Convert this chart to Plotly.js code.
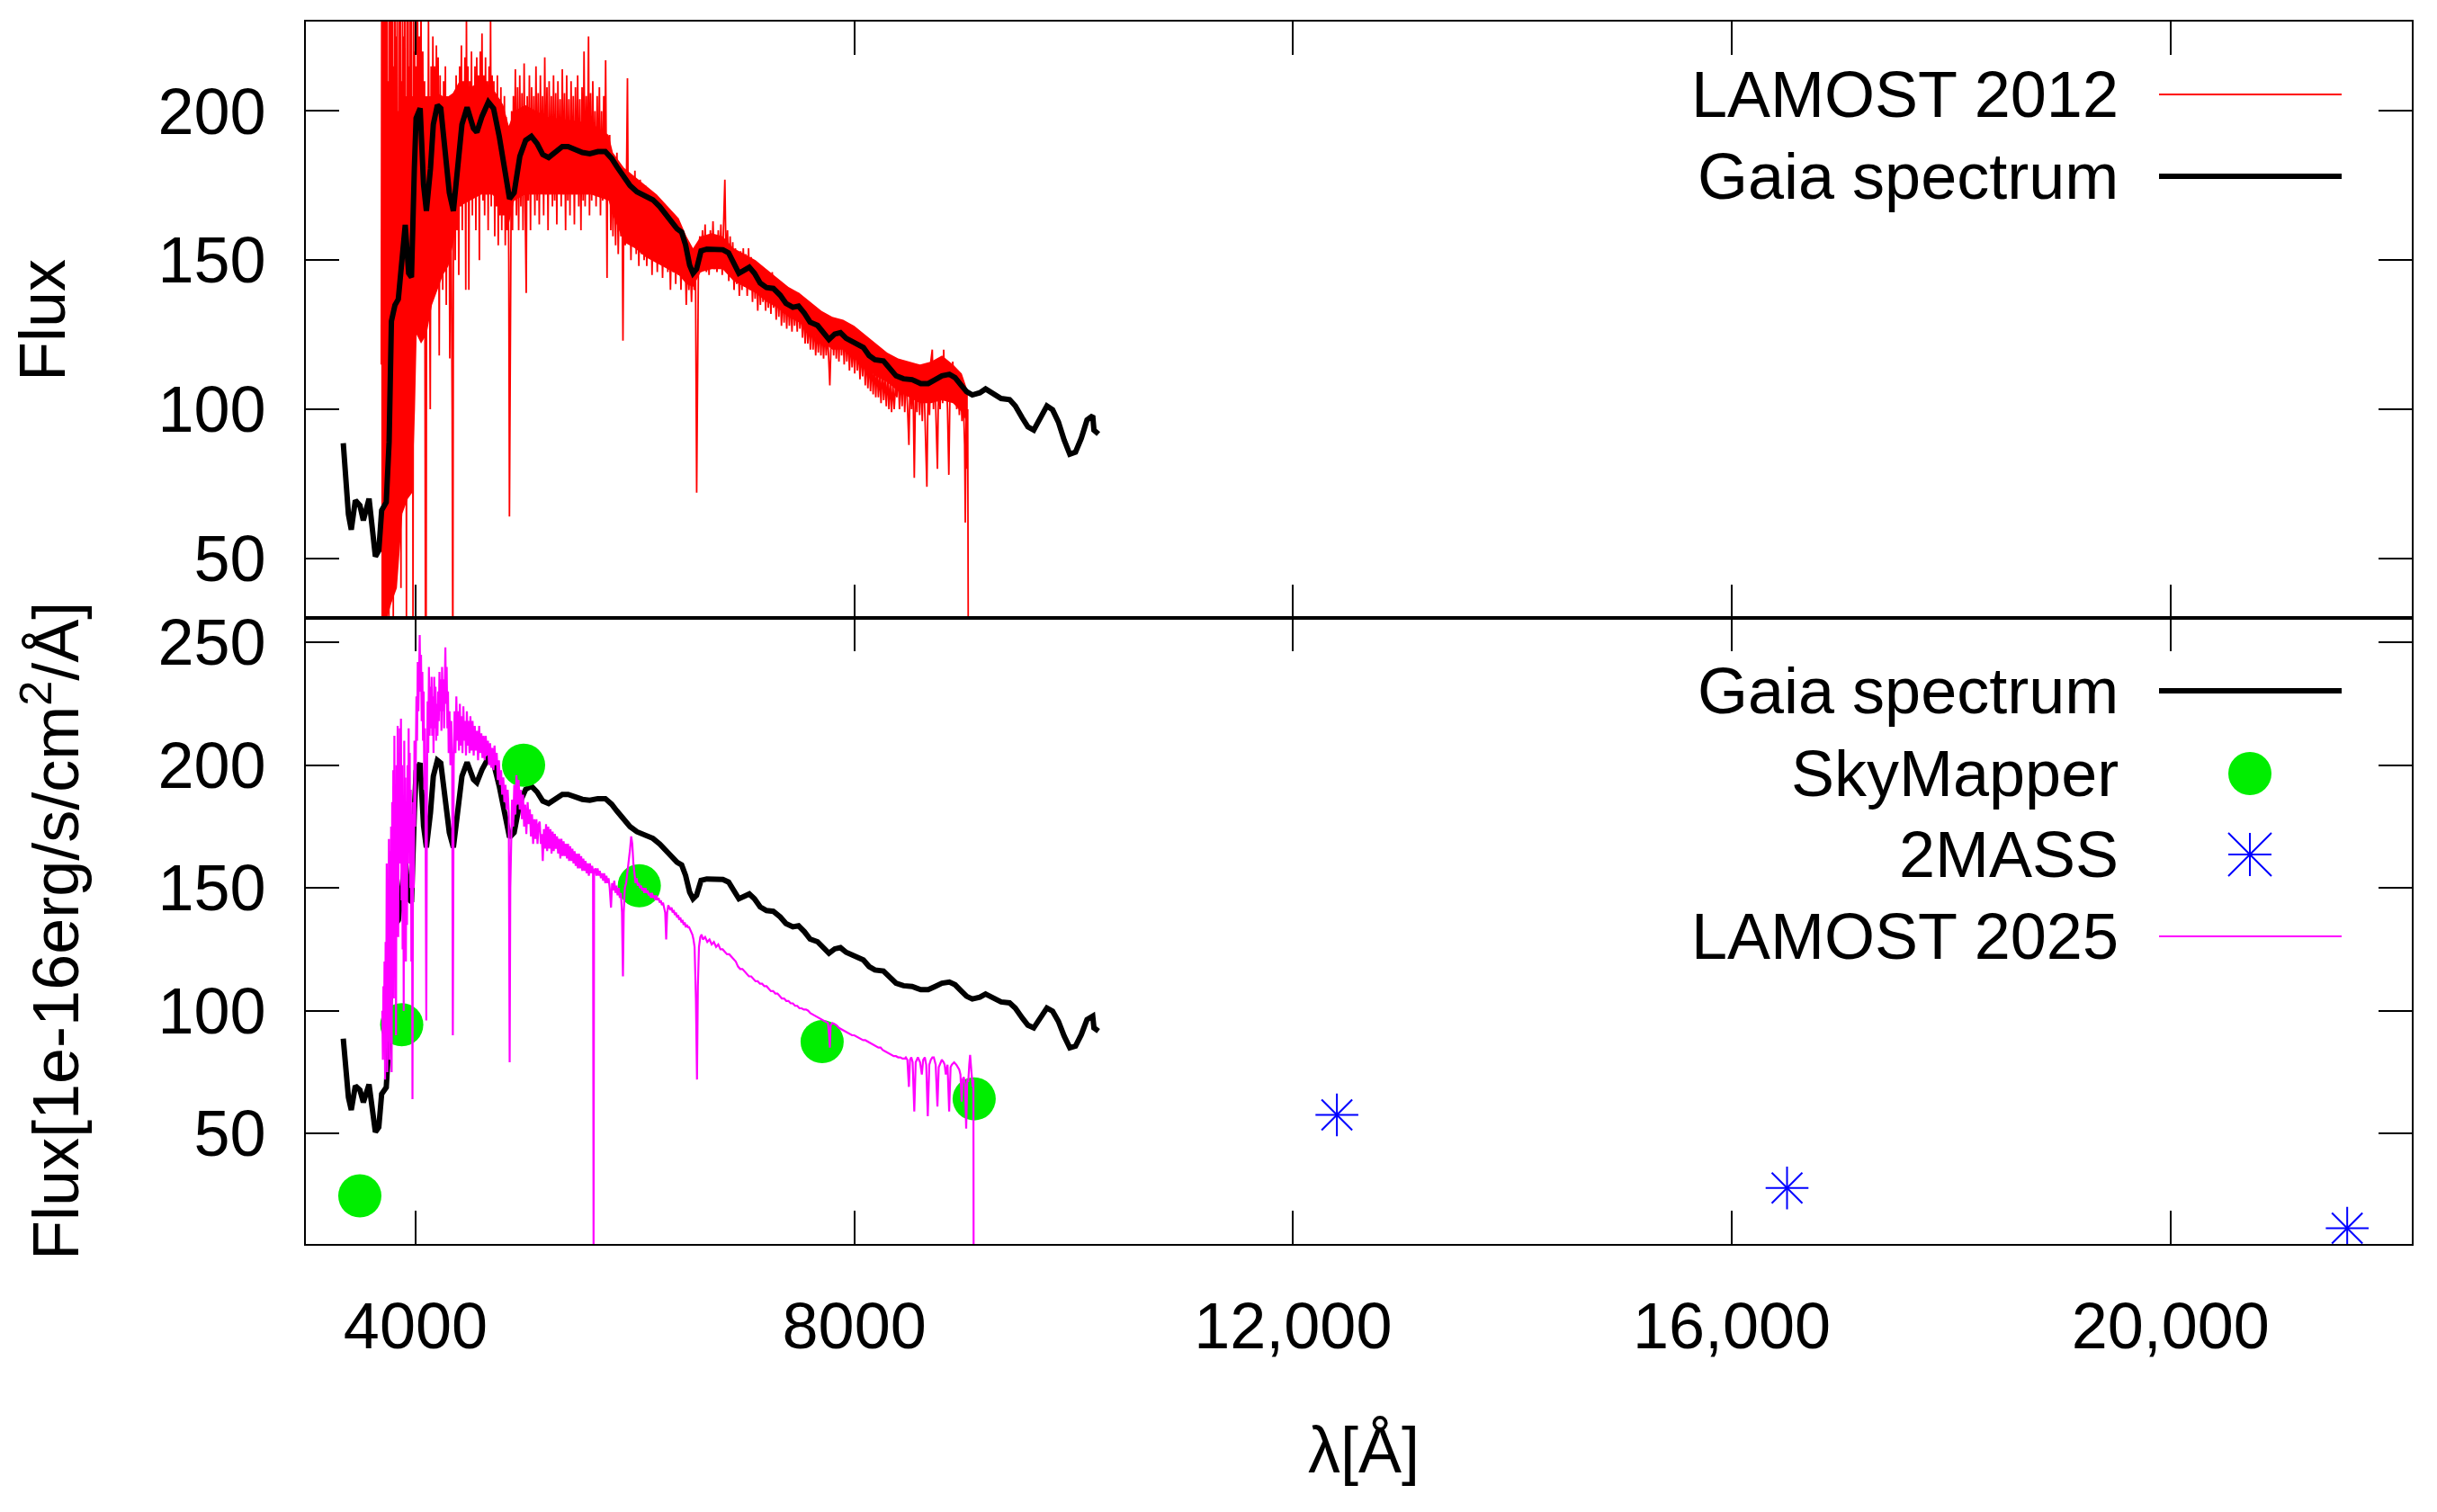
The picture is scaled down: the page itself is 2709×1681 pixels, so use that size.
<!DOCTYPE html>
<html>
<head>
<meta charset="utf-8">
<script src="https://cdn.plot.ly/plotly-3.0.1.min.js"></script>
<style>
  html, body { margin: 0; padding: 0; background: #fff; }
  #chart { width: 2709px; height: 1681px; }
</style>
</head>
<body>
<div id="chart"></div>
<script>
// Gaia XP spectrum (same curve in both panels)
const GAIA_X = [
  3341,3367,3388,3414,3451,3493,3524,3576,3603,3634,
  3665,3691,3733,3759,3780,3812,3843,3874,3906,3937,
  3963,3989,4005,4042,4073,4099,4136,4162,4199,4230,
  4272,4308,4345,4382,4423,4470,4502,4528,4559,4606,
  4664,4711,4763,4815,4857,4899,4951,5004,5056,5108,
  5160,5213,5275,5338,5391,5453,5521,5589,5662,5730,
  5788,5835,5898,5955,6018,6096,6164,6227,6279,6332,
  6384,6426,6462,6499,6530,6562,6603,6656,6724,6802,
  6854,6896,6948,7001,7043,7090,7142,7199,7262,7325,
  7377,7440,7492,7545,7597,7665,7717,7769,7822,7874,
  7926,8004,8083,8135,8188,8266,8318,8381,8449,8527,
  8606,8674,8737,8799,8867,8919,8972,9024,9076,9144,
  9197,9259,9338,9416,9468,9531,9583,9636,9688,9756,
  9808,9861,9913,9965,10017,10070,10122,10174,10185,10226
];
const GAIA_Y = [
  88.6,75.5,64.7,59.6,69.4,67.7,62.7,70.0,62.0,50.6,
  52.6,66.1,68.8,89.0,129.5,134.9,136.9,149.7,161.8,145.6,
  144.3,180.7,197.6,200.9,175.3,166.5,180.7,195.5,202.0,200.9,
  184.8,172.6,166.5,179.4,195.5,201.2,196.9,194.2,192.9,198.2,
  203.0,200.9,191.5,180.7,170.6,172.6,184.8,190.2,191.5,189.1,
  185.4,184.4,186.1,188.1,188.1,187.2,186.1,185.7,186.4,186.4,
  184.1,181.4,178.0,175.0,172.9,171.5,170.2,167.9,165.2,162.5,
  160.5,159.4,155.1,148.3,145.6,147.0,153.1,153.7,153.5,153.5,
  152.4,149.0,145.6,146.7,147.6,145.6,142.3,140.8,140.5,138.2,
  135.5,134.2,134.6,132.2,129.2,128.1,125.7,123.4,125.2,125.7,
  123.8,122.4,120.7,118.0,116.6,116.2,113.9,111.2,110.2,109.9,
  108.6,108.6,109.9,111.2,111.7,110.6,108.2,105.9,104.8,105.5,
  106.8,105.5,103.6,103.2,101.1,97.1,94.1,93.0,96.4,101.1,
  99.8,95.7,89.7,84.9,85.6,90.3,96.4,97.8,93.0,91.7
];

// LAMOST 2012 spectrum: noisy trace
const L12_X = [
  3688,3692,3697,3702,3707,3712,3717,3722,3727,3732,
  3737,3742,3747,3752,3757,3762,3767,3772,3777,3782,
  3787,3792,3797,3802,3807,3812,3817,3822,3827,3832,
  3837,3842,3847,3852,3857,3862,3867,3872,3877,3882,
  3887,3892,3897,3902,3907,3912,3917,3922,3927,3932,
  3937,3942,3947,3952,3957,3962,3967,3972,3977,3982,
  3987,3992,3997,4002,4010,4018,4026,4034,4042,4050,
  4058,4066,4074,4082,4090,4096,4102,4110,4118,4126,
  4134,4142,4150,4158,4166,4174,4182,4190,4198,4206,
  4216,4224,4232,4240,4248,4256,4264,4272,4280,4288,
  4296,4304,4312,4320,4328,4334,4340,4346,4354,4362,
  4370,4378,4386,4394,4402,4410,4418,4426,4434,4442,
  4450,4458,4464,4470,4478,4486,4494,4502,4510,4518,
  4526,4534,4542,4550,4558,4566,4574,4582,4590,4598,
  4606,4614,4622,4630,4638,4646,4654,4662,4670,4678,
  4684,4690,4698,4706,4714,4722,4730,4738,4746,4754,
  4762,4770,4778,4786,4794,4802,4810,4818,4826,4834,
  4842,4850,4856,4862,4868,4876,4884,4892,4900,4910,
  4920,4930,4940,4950,4960,4970,4980,4990,5000,5009,
  5018,5028,5038,5048,5058,5068,5078,5088,5098,5108,
  5118,5128,5138,5148,5158,5168,5178,5188,5198,5208,
  5218,5228,5238,5248,5258,5268,5278,5288,5298,5308,
  5318,5328,5338,5348,5358,5368,5378,5388,5398,5408,
  5418,5428,5438,5448,5458,5468,5478,5488,5498,5508,
  5518,5528,5536,5546,5556,5566,5577,5586,5596,5606,
  5616,5626,5636,5646,5656,5666,5676,5686,5696,5706,
  5716,5724,5733,5740,5746,5752,5760,5770,5780,5790,
  5800,5812,5824,5836,5848,5860,5872,5882,5891,5900,
  5912,5924,5932,5940,5952,5964,5976,5988,6000,6012,
  6024,6036,6048,6060,6072,6084,6096,6108,6120,6132,
  6144,6156,6168,6180,6192,6204,6216,6228,6240,6252,
  6264,6276,6288,6300,6312,6324,6336,6348,6360,6372,
  6384,6396,6408,6420,6432,6444,6456,6468,6480,6492,
  6504,6516,6528,6540,6552,6563,6572,6580,6592,6604,
  6616,6628,6640,6652,6664,6676,6688,6700,6712,6724,
  6736,6748,6760,6772,6784,6796,6820,6832,6844,6856,
  6868,6880,6892,6904,6916,6928,6940,6952,6964,6976,
  6988,7000,7012,7024,7036,7048,7060,7072,7084,7096,
  7108,7120,7132,7144,7156,7168,7180,7192,7204,7216,
  7228,7240,7252,7264,7276,7288,7300,7312,7324,7336,
  7348,7360,7372,7384,7396,7408,7420,7432,7444,7456,
  7468,7480,7492,7504,7516,7528,7540,7552,7564,7576,
  7588,7600,7612,7624,7636,7648,7660,7672,7684,7696,
  7708,7720,7732,7744,7756,7766,7777,7788,7800,7812,
  7824,7836,7848,7860,7872,7884,7896,7908,7920,7932,
  7944,7956,7968,7980,7992,8004,8016,8028,8040,8052,
  8064,8076,8088,8100,8112,8124,8136,8148,8160,8172,
  8184,8196,8208,8220,8232,8244,8256,8268,8280,8292,
  8304,8316,8328,8340,8352,8364,8376,8388,8400,8412,
  8424,8436,8448,8460,8472,8486,8498,8510,8522,8534,
  8547,8560,8572,8584,8596,8608,8620,8632,8644,8662,
  8674,8686,8698,8711,8722,8734,8746,8758,8770,8782,
  8794,8806,8815,8826,8838,8850,8862,8874,8886,8898,
  8910,8922,8934,8946,8958,8970,8982,8994,9006,9012,
  9020,9028,9034,9040
];
const L12_Y = [
  115,250,20,240,35,250,60,235,25,245,
  70,250,40,210,15,245,90,230,55,250,
  100,240,30,215,110,250,70,225,120,250,
  95,200,130,245,115,230,40,210,135,245,
  100,225,145,240,120,205,30,235,150,250,
  135,215,95,240,160,230,140,205,25,240,
  150,220,165,215,160,240,140,225,175,235,
  125,220,150,210,30,10,200,140,230,165,
  100,215,160,225,175,215,150,222,170,218,
  118,212,170,205,140,210,160,215,135,195,
  150,205,117,190,150,100,10,175,205,150,
  212,160,205,145,215,168,222,160,210,175,
  218,140,232,170,215,140,210,172,220,165,
  208,175,215,160,218,175,212,150,220,178,
  226,170,212,165,218,172,210,160,215,175,
  232,168,212,172,210,158,205,168,212,155,
  204,165,208,160,200,165,205,155,198,160,
  192,150,64,120,178,200,160,205,170,214,
  165,208,160,212,168,206,160,216,166,139,
  205,170,212,160,208,172,205,165,215,170,
  206,162,212,175,205,165,218,172,208,160,
  210,172,205,168,212,170,206,162,210,174,
  204,168,214,172,206,160,212,170,204,165,
  210,172,205,162,208,172,212,168,204,160,
  208,170,220,168,205,172,225,165,206,170,
  210,172,200,168,205,172,208,165,200,170,
  205,172,217,168,144,190,172,192,160,185,
  158,182,155,186,152,180,158,178,123,175,
  155,180,211,158,178,150,176,155,180,152,
  174,148,177,152,172,150,175,148,170,152,
  172,145,168,150,170,146,167,150,168,144,
  165,148,166,146,162,140,163,146,160,142,
  162,145,158,140,160,145,156,135,152,140,
  150,136,152,140,150,72,118,152,158,146,
  160,148,162,146,158,145,160,148,163,147,
  158,146,160,148,162,145,177,148,160,143,
  158,144,156,140,154,142,152,138,153,140,
  154,141,152,138,154,140,151,136,149,137,
  148,133,147,135,146,136,145,133,146,134,
  144,132,146,134,143,130,141,131,142,128,
  139,129,140,127,139,128,137,126,138,128,
  136,126,139,127,134,124,133,122,132,122,
  130,120,131,120,129,118,128,119,128,118,
  128,117,127,118,126,116,108,122,130,118,
  129,117,128,116,130,118,127,115,126,116,
  125,113,124,114,123,112,124,113,121,110,
  120,111,120,108,118,107,117,106,116,105,
  115,104,114,104,112,102,114,103,111,101,
  112,100,110,99,109,100,108,104,113,100,
  112,101,114,99,112,100,88,112,100,114,
  77,112,99,115,98,112,96,114,100,74,
  112,98,116,120,100,114,96,80,114,100,
  116,102,120,104,112,100,78,110,104,116,
  102,112,100,110,98,108,96,104,88,62,
  98,80,100,10
];
// dense core of the LAMOST 2012 noise (lower / upper edge)
const L12_BAND_X = [
  3690,3740,3780,3830,3880,3930,3970,3995,4010,4050,
  4100,4150,4200,4250,4300,4340,4400,4500,4600,4700,
  4800,4850,4900,5000,5200,5400,5600,5760,5800,5900,
  6000,6100,6200,6300,6400,6470,6530,6600,6700,6800,
  6900,7000,7100,7200,7300,7400,7500,7600,7700,7800,
  7900,8000,8100,8200,8300,8400,8500,8600,8700,8800,
  8900,8980,9035
];
const L12_BAND_LO = [
  30,30,35,40,65,70,72,100,125,122,
  125,135,140,145,148,155,168,170,172,172,
  168,162,170,172,172,172,172,170,165,156,
  154,151,149,147,145,142,141,146,147,147,
  143,141,139,136,134,131,129,126,123,120,
  120,117,114,111,109,106,104,102,102,103,
  102,99,95
];
const L12_BAND_HI = [
  160,165,168,168,168,168,170,195,204,205,
  205,205,206,205,205,206,210,208,210,208,
  202,195,200,202,198,197,196,192,186,181,
  178,175,172,168,164,158,154,158,159,158,
  154,152,150,147,144,141,139,136,133,131,
  130,128,125,122,119,117,116,115,116,118,
  115,112,106
];

// LAMOST 2025 spectrum
const L25_X = [
  3697,3702,3707,3712,3717,3722,3727,3732,3737,3742,
  3747,3752,3757,3762,3767,3772,3777,3782,3787,3792,
  3797,3802,3807,3812,3817,3822,3827,3832,3837,3842,
  3847,3852,3857,3862,3867,3872,3877,3882,3887,3892,
  3897,3902,3907,3912,3917,3922,3927,3932,3937,3942,
  3947,3952,3957,3962,3967,3972,3978,3984,3990,3996,
  4002,4008,4014,4020,4026,4032,4038,4044,4050,4056,
  4062,4068,4074,4080,4086,4092,4098,4104,4110,4116,
  4122,4128,4134,4140,4146,4152,4158,4164,4170,4176,
  4182,4188,4194,4200,4206,4212,4218,4224,4230,4236,
  4242,4248,4254,4260,4266,4272,4278,4284,4290,4296,
  4302,4310,4318,4326,4334,4340,4348,4356,4364,4372,
  4380,4388,4396,4404,4412,4420,4428,4436,4444,4452,
  4460,4468,4476,4484,4492,4500,4510,4520,4530,4540,
  4550,4560,4570,4580,4590,4600,4610,4620,4630,4640,
  4650,4660,4670,4680,4690,4700,4710,4720,4730,4740,
  4750,4760,4770,4780,4790,4800,4810,4820,4830,4840,
  4850,4858,4864,4872,4880,4890,4900,4910,4920,4930,
  4940,4950,4960,4970,4980,4990,5000,5010,5022,5032,
  5042,5052,5062,5072,5082,5092,5102,5112,5122,5132,
  5142,5150,5160,5170,5180,5190,5200,5210,5220,5230,
  5240,5250,5260,5270,5280,5290,5300,5310,5320,5330,
  5340,5350,5360,5370,5380,5390,5400,5410,5420,5430,
  5440,5450,5460,5470,5480,5490,5500,5510,5520,5530,
  5540,5550,5560,5570,5580,5590,5600,5610,5618,5623,
  5628,5640,5650,5660,5670,5680,5690,5700,5710,5720,
  5730,5740,5750,5760,5770,5782,5792,5802,5812,5822,
  5832,5842,5852,5862,5872,5882,5891,5898,5908,5920,
  5932,5944,5956,5966,5976,5986,5996,6006,6016,6026,
  6036,6046,6056,6066,6076,6086,6096,6106,6116,6126,
  6136,6146,6156,6166,6176,6186,6196,6206,6216,6226,
  6236,6246,6256,6266,6276,6285,6294,6304,6314,6324,
  6334,6344,6354,6364,6374,6384,6394,6404,6414,6424,
  6434,6444,6454,6464,6474,6484,6494,6504,6514,6524,
  6534,6544,6556,6566,6574,6584,6596,6608,6620,6640,
  6660,6680,6700,6720,6740,6760,6780,6800,6820,6840,
  6860,6880,6900,6920,6940,6960,6980,7000,7020,7040,
  7060,7080,7100,7120,7140,7160,7180,7200,7220,7240,
  7260,7280,7300,7320,7340,7360,7380,7400,7420,7440,
  7460,7480,7500,7520,7540,7560,7580,7600,7620,7640,
  7660,7680,7700,7720,7740,7760,7770,7777,7784,7800,
  7820,7840,7860,7880,7900,7920,7940,7960,7980,8000,
  8020,8040,8060,8080,8100,8120,8140,8160,8180,8200,
  8220,8240,8260,8280,8300,8320,8340,8360,8380,8400,
  8420,8440,8460,8470,8484,8498,8508,8520,8532,8547,
  8560,8580,8600,8616,8628,8643,8656,8670,8684,8698,
  8712,8725,8742,8758,8770,8780,8798,8815,8824,8834,
  8850,8865,8878,8889,8910,8930,8945,8957,8968,8979,
  8988,8998,9010,9020,9030,9039,9048,9056,9068,9080,
  9086,9088
];
const L25_Y = [
  100,80,110,85,120,72,128,90,160,75,
  140,110,170,80,165,100,175,75,185,120,
  198,105,212,140,180,90,200,150,216,130,
  205,170,215,160,219,145,200,125,185,100,
  210,150,195,120,180,135,200,160,215,175,
  205,150,190,120,180,64,185,150,210,175,
  200,228,210,242,222,248,253,230,245,218,
  238,210,230,190,215,168,96,190,226,205,
  240,212,232,215,236,212,228,205,236,215,
  232,210,225,212,230,218,238,222,235,214,
  240,222,235,215,242,248,225,240,215,230,
  205,222,200,218,200,90,200,222,205,228,
  210,222,206,225,208,220,205,224,210,218,
  204,222,208,218,205,220,206,218,204,216,
  206,214,202,216,205,213,203,212,202,212,
  204,210,200,209,199,207,198,208,200,205,
  194,202,192,198,188,195,185,192,182,190,
  180,79,150,178,186,175,192,180,196,184,
  194,182,190,178,188,175,184,172,185,176,
  182,171,180,168,178,170,178,168,176,177,
  168,172,161,174,166,176,165,175,166,174,
  164,173,165,172,166,171,164,170,162,170,
  163,169,163,168,162,168,161,167,161,166,
  160,165,159,164,158,164,158,163,157,162,
  157,161,156,160,155,160,156,159,157,3,
  157,158,155,158,155,157,154,156,153,156,
  152,155,152,154,150,142,152,149,153,148,
  151,147,150,146,148,140,114,140,150,152,
  156,160,166,171,168,160,155,152,154,151,
  152,150,151,149,150,148,150,148,149,147,
  148,146,148,146,147,145,147,145,146,144,
  145,143,144,142,140,129,140,143,142,141,
  142,140,141,139,140,138,139,137,138,136,
  137,135,136,134,135,134,134,133,132,131,
  129,126,105,72,110,126,130,131,129,130,
  128,129,127,128,126,127,125,125,124,123,
  123,122,121,120,118,117,117,116,115,114,
  114,113,112,112,111,111,110,110,109,108,
  108,107,107,106,105,105,104,104,103,103,
  102,102,101,101,100.5,100.5,100,99,98.5,98,
  97.5,97,96.3,96,95.5,95,90,85,94,95,
  94.6,94,93,92.5,92,91.5,91,90.5,90,90,
  89.5,89,88.5,88,88,87.5,87,86.5,86,85.5,
  85,85,84,83.5,83,82.5,82,81.5,81.5,81,
  81,80.5,80.5,81,80,69,80,81,79,59,
  79,81,79,74,80,81,78,57,78,80,
  81,81,78,61,77,78,80,79,78,74,
  78,59,77,78,79,78,77,76,74,63,
  72,73,70,52,72,71,78,82,75,69,
  72,0
];

// photometry
const SKY_X = [3492, 3874, 4985, 6040, 7707, 9093];
const SKY_Y = [24.6, 94.3, 200.0, 150.9, 87.4, 64.1];
const TMASS_X = [12400, 16504, 21611];
const TMASS_Y = [57.6, 27.8, 11.4];

const XTICKS = [4000, 8000, 12000, 16000, 20000];
const XTICK_TEXT = ['4000', '8000', '12,000', '16,000', '20,000'];
const Y1_TICKS = [50, 100, 150, 200];
const Y2_TICKS = [50, 100, 150, 200, 250];

const RED = '#ff0000', MAGENTA = '#ff00ff', GREEN = '#00ee00', BLUE = '#0000ff';

// figure geometry (pixels)
const W = 2709, H = 1681;
const M = { l: 340, r: 28, t: 24, b: 298 };
const PW = W - M.l - M.r, PH = H - M.t - M.b;
const SPLIT = 696 / PH;
const px = (x) => (x - M.l) / PW;
const py = (y) => (H - M.b - y) / PH;

const FONT = { family: 'Liberation Sans, Arial, sans-serif', size: 72, color: '#000' };

const traces = [
  {
    x: L12_BAND_X.concat(L12_BAND_X.slice().reverse()),
    y: L12_BAND_HI.concat(L12_BAND_LO.slice().reverse()),
    xaxis: 'x', yaxis: 'y', mode: 'lines', fill: 'toself',
    fillcolor: RED, line: { width: 0, color: RED }, hoverinfo: 'skip',
  },
  { x: L12_X, y: L12_Y, xaxis: 'x', yaxis: 'y', mode: 'lines', line: { color: RED, width: 1.8 }, name: 'LAMOST 2012' },
  { x: GAIA_X, y: GAIA_Y, xaxis: 'x', yaxis: 'y', mode: 'lines', line: { color: '#000', width: 6 }, name: 'Gaia spectrum' },

  { x: GAIA_X, y: GAIA_Y, xaxis: 'x2', yaxis: 'y2', mode: 'lines', line: { color: '#000', width: 6 }, name: 'Gaia spectrum' },
  { x: SKY_X, y: SKY_Y, xaxis: 'x2', yaxis: 'y2', mode: 'markers', marker: { color: GREEN, size: 48, line: { width: 0 } }, name: 'SkyMapper' },
  { x: TMASS_X, y: TMASS_Y, xaxis: 'x2', yaxis: 'y2', mode: 'markers',
    marker: { symbol: 'cross-thin-open', size: 34, color: BLUE, line: { color: BLUE, width: 2 } }, name: '2MASS' },
  { x: TMASS_X, y: TMASS_Y, xaxis: 'x2', yaxis: 'y2', mode: 'markers',
    marker: { symbol: 'x-thin-open', size: 34, color: BLUE, line: { color: BLUE, width: 2 } }, hoverinfo: 'skip' },
  { x: L25_X, y: L25_Y, xaxis: 'x2', yaxis: 'y2', mode: 'lines', line: { color: MAGENTA, width: 2.2 }, name: 'LAMOST 2025' },
];

// gnuplot-style key: right-aligned label, sample to its right
const annotations = [];
const shapes = [];
const KEY_TEXT_X = px(2357), KEY_X0 = px(2400), KEY_X1 = px(2603), KEY_MID = px(2501);
function keyRow(label, yPix, kind, color, width) {
  annotations.push({
    xref: 'paper', yref: 'paper', x: KEY_TEXT_X, y: py(yPix), xanchor: 'right', yanchor: 'middle',
    text: label, showarrow: false, font: FONT,
  });
  if (kind === 'line') {
    shapes.push({ type: 'line', xref: 'paper', yref: 'paper', x0: KEY_X0, x1: KEY_X1, y0: py(yPix), y1: py(yPix),
      line: { color, width } });
  } else if (kind === 'dot') {
    shapes.push({ type: 'circle', xref: 'paper', yref: 'paper', xsizemode: 'pixel', ysizemode: 'pixel',
      xanchor: KEY_MID, yanchor: py(yPix), x0: -24, x1: 24, y0: -24, y1: 24, fillcolor: color, line: { width: 0 } });
  } else if (kind === 'star') {
    [[-24, 0, 24, 0], [0, -24, 0, 24], [-24, -24, 24, 24], [-24, 24, 24, -24]].forEach((s) => {
      shapes.push({ type: 'line', xref: 'paper', yref: 'paper', xsizemode: 'pixel', ysizemode: 'pixel',
        xanchor: KEY_MID, yanchor: py(yPix), x0: s[0], y0: s[1], x1: s[2], y1: s[3], line: { color, width: 2 } });
    });
  }
}
keyRow('LAMOST 2012', 105, 'line', RED, 1.8);
keyRow('Gaia spectrum', 196, 'line', '#000', 6);
keyRow('Gaia spectrum', 768, 'line', '#000', 6);
keyRow('SkyMapper', 860, 'dot', GREEN);
keyRow('2MASS', 950, 'star', BLUE);
keyRow('LAMOST 2025', 1041, 'line', MAGENTA, 1.8);

annotations.push(
  { xref: 'paper', yref: 'paper', x: px(47), y: py(356), xanchor: 'center', yanchor: 'middle', textangle: -90,
    text: 'Flux', showarrow: false, font: FONT },
  { xref: 'paper', yref: 'paper', x: px(56), y: py(1035), xanchor: 'center', yanchor: 'middle', textangle: -90,
    text: 'Flux[1e-16erg/s/cm<sup>2</sup>/Å]', showarrow: false, font: FONT },
  { xref: 'paper', yref: 'paper', x: px(1516), y: py(1612), xanchor: 'center', yanchor: 'middle',
    text: 'λ[Å]', showarrow: false, font: FONT }
);

const AX = {
  showline: true, linecolor: '#000', linewidth: 2, mirror: 'ticks',
  ticks: 'inside', ticklen: 37, tickwidth: 2, tickcolor: '#000',
  showgrid: false, zeroline: false, tickfont: FONT, fixedrange: true,
};

const layout = {
  width: W, height: H, margin: M,
  paper_bgcolor: '#fff', plot_bgcolor: '#fff', showlegend: false, font: FONT,
  xaxis: { ...AX, range: [3000, 22200], anchor: 'y', tickmode: 'array', tickvals: XTICKS, showticklabels: false },
  yaxis: { ...AX, range: [30, 230], domain: [SPLIT, 1], anchor: 'x', tickmode: 'array', tickvals: Y1_TICKS, ticklabelstandoff: 28 },
  xaxis2: { ...AX, range: [3000, 22200], anchor: 'y2', tickmode: 'array', tickvals: XTICKS, ticktext: XTICK_TEXT, ticklabelstandoff: 28 },
  yaxis2: { ...AX, range: [5, 260], domain: [0, SPLIT], anchor: 'x2', tickmode: 'array', tickvals: Y2_TICKS, ticklabelstandoff: 28 },
  annotations, shapes,
};

Plotly.newPlot('chart', traces, layout, { staticPlot: true });
</script>
</body>
</html>
